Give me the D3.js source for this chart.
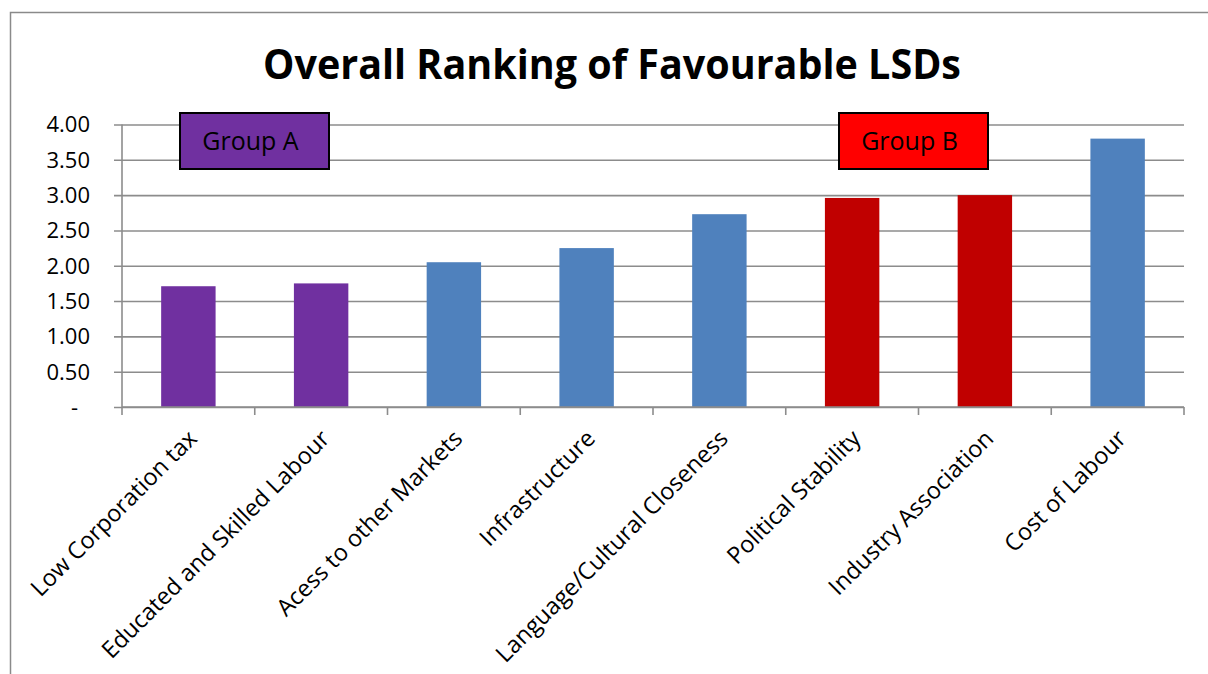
<!DOCTYPE html>
<html>
<head>
<meta charset="utf-8">
<script src="https://cdn.jsdelivr.net/npm/d3@7"></script>
<style>
  html, body { margin: 0; padding: 0; background: #fff; }
  svg { display: block; }
  text { font-family: "Open Sans", "DejaVu Sans", sans-serif; fill: #000; }
</style>
</head>
<body>
<svg id="chart" width="1208" height="674"></svg>
<script>
// Location-specific determinants, ranked by average score
const categories = [
  "Low Corporation tax",
  "Educated and Skilled Labour",
  "Acess to other Markets",
  "Infrastructure",
  "Language/Cultural Closeness",
  "Political Stability",
  "Industry Association",
  "Cost of Labour"
];
const scores = [1.71, 1.75, 2.05, 2.25, 2.73, 2.96, 3.00, 3.80];
const groups = ["A", "A", "", "", "", "B", "B", ""];
const yTicks = [0, 0.5, 1, 1.5, 2, 2.5, 3, 3.5, 4];
const groupLabels = ["Group A", "Group B"];

const title = "Overall Ranking of Favourable LSDs";

const barColor = { A: "#7030A0", B: "#C00000", "": "#4F81BD" };
const boxColor = { "Group A": "#7030A0", "Group B": "#FF0000" };

const svg = d3.select("#chart");
const W = 1208, H = 674;
const plot = { left: 122, right: 1184, top: 124.5, bottom: 407 };

// outer chart frame (right and bottom edges fall outside the view)
svg.append("rect")
  .attr("x", 10.5).attr("y", 12.5)
  .attr("width", W + 20).attr("height", H + 20)
  .attr("fill", "#fff").attr("stroke", "#8a8a8a").attr("stroke-width", 1.5);

const x = d3.scaleBand()
  .domain(categories)
  .range([plot.left, plot.right])
  .paddingInner(0.59).paddingOuter(0.295);

const xEdges = d3.scaleLinear()
  .domain([0, categories.length])
  .range([plot.left, plot.right]);

const y = d3.scaleLinear()
  .domain([0, 4])
  .range([plot.bottom, plot.top]);

// horizontal gridlines with left tick stubs
const yAxis = d3.axisLeft(y)
  .tickValues(yTicks)
  .tickSize(-(plot.right - plot.left))
  .tickPadding(0)
  .tickFormat(() => "");
const gy = svg.append("g")
  .attr("transform", `translate(${plot.left},0)`)
  .call(yAxis);
gy.select(".domain").remove();
gy.selectAll(".tick line")
  .attr("x1", -8)
  .attr("stroke", "#8c8c8c")
  .attr("stroke-width", 1.6);

// y tick labels (zero shown as a dash)
svg.append("g").selectAll("text")
  .data(yTicks)
  .join("text")
  .attr("x", d => d === 0 ? 78 : 90)
  .attr("y", d => y(d))
  .attr("dy", "0.36em")
  .attr("text-anchor", "end")
  .attr("font-size", 22)
  .text(d => d === 0 ? "-" : d3.format(".2f")(d));

// vertical axis line
svg.append("line")
  .attr("x1", plot.left).attr("x2", plot.left)
  .attr("y1", plot.top).attr("y2", plot.bottom)
  .attr("stroke", "#8c8c8c").attr("stroke-width", 1.6);

// bars
svg.append("g").selectAll("rect")
  .data(categories)
  .join("rect")
  .attr("x", d => x(d))
  .attr("width", x.bandwidth())
  .attr("y", (d, i) => y(scores[i]))
  .attr("height", (d, i) => y(0) - y(scores[i]))
  .attr("fill", (d, i) => barColor[groups[i]]);

// category axis: baseline and tick marks at band edges
svg.append("line")
  .attr("x1", plot.left).attr("x2", plot.right)
  .attr("y1", plot.bottom).attr("y2", plot.bottom)
  .attr("stroke", "#8c8c8c").attr("stroke-width", 1.6);
svg.append("g").selectAll("line")
  .data(d3.range(categories.length + 1))
  .join("line")
  .attr("x1", d => xEdges(d)).attr("x2", d => xEdges(d))
  .attr("y1", plot.bottom).attr("y2", plot.bottom + 8)
  .attr("stroke", "#8c8c8c").attr("stroke-width", 1.6);

// rotated category labels
svg.append("g").selectAll("text")
  .data(categories)
  .join("text")
  .attr("text-anchor", "end")
  .attr("font-size", 23.5)
  .attr("transform", d => `translate(${x(d) + x.bandwidth() / 2 + 10},440) rotate(-45)`)
  .text(d => d);

// group annotation boxes
const boxes = [
  { label: groupLabels[0], x0: 180, y0: 113, w: 149, h: 56 },
  { label: groupLabels[1], x0: 839, y0: 113, w: 149, h: 56 }
];
const gb = svg.append("g").selectAll("g")
  .data(boxes)
  .join("g");
gb.append("rect")
  .attr("x", d => d.x0).attr("y", d => d.y0)
  .attr("width", d => d.w).attr("height", d => d.h)
  .attr("fill", d => boxColor[d.label])
  .attr("stroke", "#000").attr("stroke-width", 2);
gb.append("text")
  .attr("x", d => d.x0 + d.w / 2 - 4)
  .attr("y", d => d.y0 + d.h / 2)
  .attr("dy", "0.36em")
  .attr("text-anchor", "middle")
  .attr("font-size", 25)
  .text(d => d.label);

// title
svg.append("text")
  .attr("x", 612)
  .attr("y", 79)
  .attr("text-anchor", "middle")
  .attr("font-size", 41)
  .attr("font-weight", "bold")
  .attr("textLength", 698)
  .attr("lengthAdjust", "spacingAndGlyphs")
  .text(title);
</script>
</body>
</html>
